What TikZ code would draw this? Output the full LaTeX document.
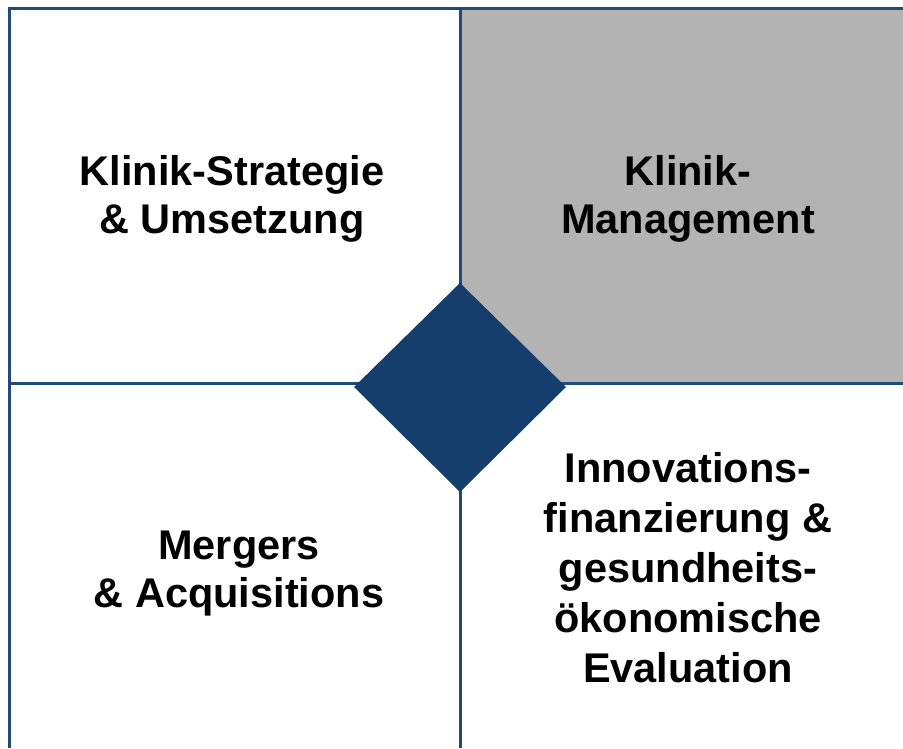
\documentclass[tikz,border=0pt]{standalone}
\usepackage{fontspec}
\setmainfont{Liberation Sans}
\definecolor{navy}{HTML}{163E6C}
\definecolor{linec}{HTML}{1F4A7A}
\definecolor{quadgray}{HTML}{B3B3B3}
\begin{document}
\begin{tikzpicture}[x=1pt,y=-1pt,
  gridline/.style={draw=linec,line width=3pt},
  label/.style={align=center,inner sep=0pt,font=\fontsize{41.5}{48}\selectfont\bfseries}]
\useasboundingbox (0,0) rectangle (903,748);
\fill[quadgray] (460,8) rectangle (903,383);
\coordinate (tl) at (7.5,8);
\coordinate (tr) at (903,8);
\coordinate (bl) at (9,748);
\coordinate (tm) at (460,8);
\coordinate (bm) at (460,748);
\coordinate (ml) at (9,383);
\coordinate (mr) at (903,383);
\draw[gridline] (tl) -- (tr);
\draw[gridline] (9,8) -- (bl);
\draw[gridline] (tm) -- (bm);
\draw[gridline] (ml) -- (mr);
\fill[navy] (460,283) -- (566,387) -- (460,492) -- (354,387) -- cycle;
\node[label] (q1) at (232,199) {Klinik-Strategie\\\& Umsetzung};
\node[label] (q2) at (688,199) {Klinik-\\Management};
\node[label] (q3) at (239,574) {Mergers\hspace{11.5pt}\\\& Acquisitions};
\node[label,font=\fontsize{41.5}{50}\selectfont\bfseries] (q4) at (688,568) {Innovations-\\finanzierung \&\\gesundheits-\\ökonomische\\Evaluation};
\end{tikzpicture}
\end{document}
